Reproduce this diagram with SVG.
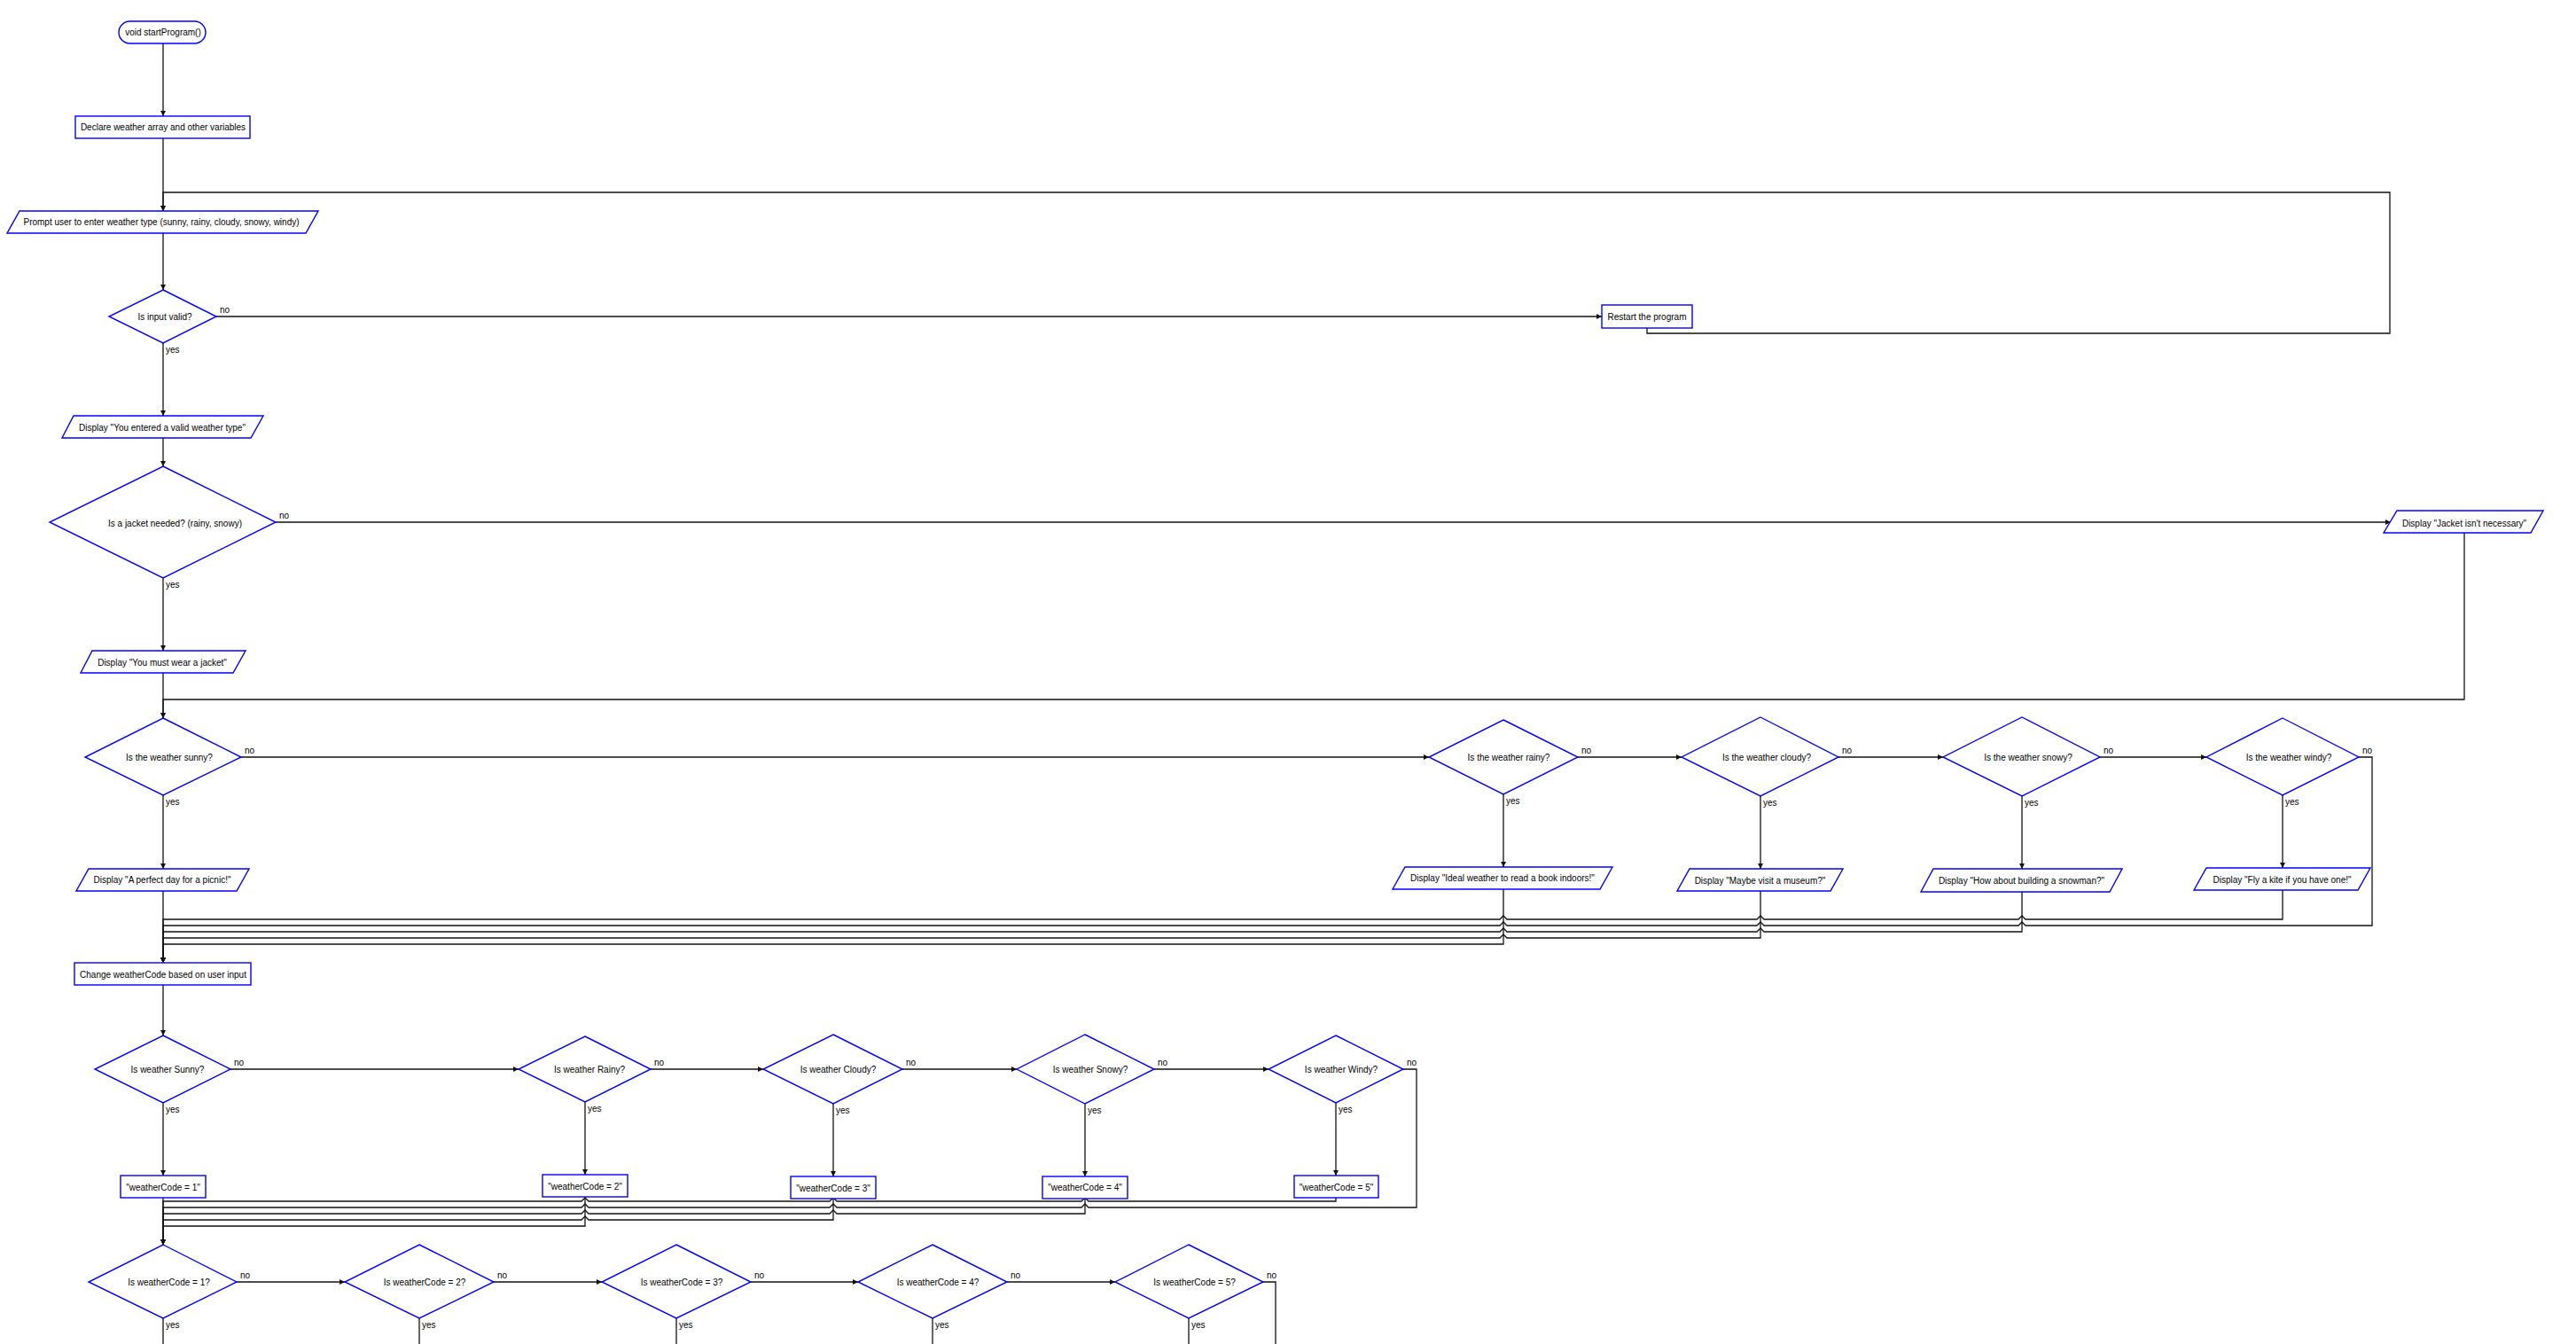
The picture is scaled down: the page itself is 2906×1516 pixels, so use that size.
<svg xmlns="http://www.w3.org/2000/svg" width="2906" height="1516" viewBox="0 0 2906 1516">
<style>
.n{fill:#fff;stroke:#0000ff;stroke-width:1.4}
.t{font-family:"Liberation Sans",Arial,sans-serif;font-size:10px;fill:#000;text-anchor:middle}
.l{font-family:"Liberation Sans",Arial,sans-serif;font-size:10px;fill:#000}
.e{fill:none;stroke:#111;stroke-width:1.3}
.a{marker-end:url(#arr)}
</style>
<defs>
<marker id="arr" markerUnits="userSpaceOnUse" markerWidth="7" markerHeight="6" refX="6" refY="3" orient="auto">
<path d="M0,0 L6,3 L0,6 z" fill="#111"/>
</marker>
<radialGradient id="fade" cx="0.5" cy="1" r="0.5">
<stop offset="0" stop-color="#dadada"/>
<stop offset="0.6" stop-color="#ececec" stop-opacity="0.7"/>
<stop offset="1" stop-color="#ffffff" stop-opacity="0"/>
</radialGradient>
</defs>
<rect width="2906" height="1516" fill="#fff"/>
<ellipse cx="1000" cy="1560" rx="850" ry="100" fill="url(#fade)"/>

<g id="connectors">
<path class="e a" d="M184,49 V131"/>
<path class="e a" d="M184,156 V238"/>
<path class="e a" d="M184,263 V327"/>
<path class="e a" d="M244,357 H1807"/>
<path class="e a" d="M1858,370 V376 H2696 V217 H184 V238"/>
<path class="e a" d="M184,387 V469"/>
<path class="e a" d="M184,494 V526"/>
<path class="e a" d="M311,589 H2697"/>
<path class="e a" d="M184,652 V734"/>
<path class="e a" d="M184,759 V810"/>
<path class="e a" d="M2780,601 V789 H184 V810"/>
<path class="e a" d="M272,854 H1612"/>
<path class="e a" d="M184,897 V980"/>
<path class="e a" d="M184,1005 V1086"/>
<path class="e a" d="M1780,854 H1897"/>
<path class="e a" d="M2074,854 H2192"/>
<path class="e a" d="M2369,854 H2489"/>
<path class="e a" d="M1696,896 V978"/>
<path class="e a" d="M1986,898 V980"/>
<path class="e a" d="M2281,898 V980"/>
<path class="e a" d="M2575,897 V979"/>
<path class="e a" d="M2575,1004 V1037 H2285 L2281,1033 L2277,1037 H1990 L1986,1033 L1982,1037 H1700 L1696,1033 L1692,1037 H184 V1086"/>
<path class="e a" d="M2661,854 H2676 V1044 H2285 L2281,1040 L2277,1044 H1990 L1986,1040 L1982,1044 H1700 L1696,1040 L1692,1044 H184 V1086"/>
<path class="e a" d="M2281,1006 V1051 H1990 L1986,1047 L1982,1051 H1700 L1696,1047 L1692,1051 H184 V1086"/>
<path class="e a" d="M1986,1005 V1058 H1700 L1696,1054 L1692,1058 H184 V1086"/>
<path class="e a" d="M1696,1003 V1065 H184 V1086"/>

<path class="e a" d="M184,1111 V1168"/>
<path class="e a" d="M260,1206 H585"/>
<path class="e a" d="M734,1206 H861"/>
<path class="e a" d="M1018,1206 H1147"/>
<path class="e a" d="M1302,1206 H1431"/>
<path class="e a" d="M184,1244 V1326"/>
<path class="e a" d="M660,1243 V1325"/>
<path class="e a" d="M940,1245 V1327"/>
<path class="e a" d="M1224,1245 V1327"/>
<path class="e a" d="M1507,1244 V1326"/>
<path class="e a" d="M184,1351 V1404"/>
<path class="e a" d="M1507,1351 V1355 H1228 L1224,1351 L1220,1355 H944 L940,1351 L936,1355 H664 L660,1351 L656,1355 H184 V1404"/>
<path class="e a" d="M1583,1206 H1598 V1362 H1228 L1224,1358 L1220,1362 H944 L940,1358 L936,1362 H664 L660,1358 L656,1362 H184 V1404"/>
<path class="e a" d="M1224,1352 V1369 H944 L940,1365 L936,1369 H664 L660,1365 L656,1369 H184 V1404"/>
<path class="e a" d="M940,1352 V1376 H664 L660,1372 L656,1376 H184 V1404"/>
<path class="e a" d="M660,1350 V1383 H184 V1404"/>

<path class="e a" d="M267,1446 H389"/>
<path class="e a" d="M557,1446 H679"/>
<path class="e a" d="M847,1446 H968"/>
<path class="e a" d="M1136,1446 H1258"/>
<path class="e" d="M1425,1446 H1439 V1520"/>
<path class="e" d="M184,1487 V1520"/>
<path class="e" d="M473,1487 V1520"/>
<path class="e" d="M763,1487 V1520"/>
<path class="e" d="M1052,1487 V1520"/>
<path class="e" d="M1341,1487 V1520"/>

<text class="l" x="248" y="353">no</text>
<text class="l" x="187" y="398">yes</text>
<text class="l" x="315" y="585">no</text>
<text class="l" x="187" y="663">yes</text>
<text class="l" x="276" y="850">no</text>
<text class="l" x="187" y="908">yes</text>
<text class="l" x="1784" y="850">no</text>
<text class="l" x="1699" y="907">yes</text>
<text class="l" x="2078" y="850">no</text>
<text class="l" x="1989" y="909">yes</text>
<text class="l" x="2373" y="850">no</text>
<text class="l" x="2284" y="909">yes</text>
<text class="l" x="2665" y="850">no</text>
<text class="l" x="2578" y="908">yes</text>

<text class="l" x="264" y="1202">no</text>
<text class="l" x="187" y="1255">yes</text>
<text class="l" x="738" y="1202">no</text>
<text class="l" x="663" y="1254">yes</text>
<text class="l" x="1022" y="1202">no</text>
<text class="l" x="943" y="1256">yes</text>
<text class="l" x="1306" y="1202">no</text>
<text class="l" x="1227" y="1256">yes</text>
<text class="l" x="1587" y="1202">no</text>
<text class="l" x="1510" y="1255">yes</text>

<text class="l" x="271" y="1442">no</text>
<text class="l" x="187" y="1498">yes</text>
<text class="l" x="561" y="1442">no</text>
<text class="l" x="476" y="1498">yes</text>
<text class="l" x="851" y="1442">no</text>
<text class="l" x="766" y="1498">yes</text>
<text class="l" x="1140" y="1442">no</text>
<text class="l" x="1055" y="1498">yes</text>
<text class="l" x="1429" y="1442">no</text>
<text class="l" x="1344" y="1498">yes</text>
</g>

<g id="start"><rect class="n" x="134" y="24" width="98" height="25" rx="12.5"/><text class="t" x="184" y="40">void startProgram()</text></g>
<g id="declare"><rect class="n" x="85" y="131" width="197" height="25"/><text class="t" x="184" y="147">Declare weather array and other variables</text></g>
<g id="prompt"><polygon class="n" points="22,238 359,238 345,263 8,263"/><text class="t" x="182" y="253.5">Prompt user to enter weather type (sunny, rainy, cloudy, snowy, windy)</text></g>
<g id="inputValid"><polygon class="n" points="184,327 244,357 184,387 123,357"/><text class="t" x="186" y="361">Is input valid?</text></g>
<g id="restart"><rect class="n" x="1807" y="344" width="102" height="26"/><text class="t" x="1858" y="360.5">Restart the program</text></g>
<g id="displayValid"><polygon class="n" points="83,469 297,469 283,494 70,494"/><text class="t" x="183" y="486">Display "You entered a valid weather type"</text></g>
<g id="jacketNeeded"><polygon class="n" points="184,526 311,589 184,652 56,589"/><text class="t" x="197.5" y="593.5">Is a jacket needed? (rainy, snowy)</text></g>
<g id="jacketNotNeeded"><polygon class="n" points="2704,576 2869,576 2855,601 2689,601"/><text class="t" x="2780" y="593.5">Display "Jacket isn't necessary"</text></g>
<g id="mustWear"><polygon class="n" points="104,734 277,734 263,759 91,759"/><text class="t" x="183" y="751">Display "You must wear a jacket"</text></g>

<g id="isSunny"><polygon class="n" points="184,810 272,854 184,897 96,854"/><text class="t" x="191" y="858">Is the weather sunny?</text></g>
<g id="isRainy"><polygon class="n" points="1696,812 1780,854 1696,896 1612,854"/><text class="t" x="1702" y="858">Is the weather rainy?</text></g>
<g id="isCloudy"><polygon class="n" points="1986,809 2074,854 1986,898 1897,854"/><text class="t" x="1993" y="858">Is the weather cloudy?</text></g>
<g id="isSnowy"><polygon class="n" points="2281,809 2369,854 2281,898 2192,854"/><text class="t" x="2288" y="858">Is the weather snowy?</text></g>
<g id="isWindy"><polygon class="n" points="2575,810 2661,854 2575,897 2489,854"/><text class="t" x="2582" y="858">Is the weather windy?</text></g>

<g id="picnic"><polygon class="n" points="100,980 281,980 267,1005 86,1005"/><text class="t" x="183" y="996">Display "A perfect day for a picnic!"</text></g>
<g id="book"><polygon class="n" points="1585,978 1819,978 1805,1003 1571,1003"/><text class="t" x="1695" y="994">Display "Ideal weather to read a book indoors!"</text></g>
<g id="museum"><polygon class="n" points="1906,980 2079,980 2065,1005 1892,1005"/><text class="t" x="1985.5" y="997">Display "Maybe visit a museum?"</text></g>
<g id="snowman"><polygon class="n" points="2181,980 2394,980 2380,1006 2167,1006"/><text class="t" x="2280.5" y="997">Display "How about building a snowman?"</text></g>
<g id="kite"><polygon class="n" points="2489,979 2674,979 2660,1004 2475,1004"/><text class="t" x="2574.5" y="996">Display "Fly a kite if you have one!"</text></g>

<g id="changeCode"><rect class="n" x="84" y="1086" width="199" height="25"/><text class="t" x="184" y="1103">Change weatherCode based on user input</text></g>

<g id="wSunny"><polygon class="n" points="184,1168 260,1206 184,1244 107,1206"/><text class="t" x="189" y="1210">Is weather Sunny?</text></g>
<g id="wRainy"><polygon class="n" points="660,1169 734,1206 660,1243 585,1206"/><text class="t" x="665" y="1210">Is weather Rainy?</text></g>
<g id="wCloudy"><polygon class="n" points="940,1167 1018,1206 940,1245 861,1206"/><text class="t" x="945.5" y="1210">Is weather Cloudy?</text></g>
<g id="wSnowy"><polygon class="n" points="1224,1167 1302,1206 1224,1245 1147,1206"/><text class="t" x="1230" y="1210">Is weather Snowy?</text></g>
<g id="wWindy"><polygon class="n" points="1507,1168 1583,1206 1507,1244 1431,1206"/><text class="t" x="1513" y="1210">Is weather Windy?</text></g>

<g id="code1"><rect class="n" x="136" y="1326" width="96" height="25"/><text class="t" x="184" y="1342.5">"weatherCode = 1"</text></g>
<g id="code2"><rect class="n" x="612" y="1325" width="96" height="25"/><text class="t" x="660" y="1341.5">"weatherCode = 2"</text></g>
<g id="code3"><rect class="n" x="892" y="1327" width="96" height="25"/><text class="t" x="940" y="1343.5">"weatherCode = 3"</text></g>
<g id="code4"><rect class="n" x="1176" y="1327" width="96" height="25"/><text class="t" x="1224" y="1343">"weatherCode = 4"</text></g>
<g id="code5"><rect class="n" x="1460" y="1326" width="95" height="25"/><text class="t" x="1507.5" y="1343">"weatherCode = 5"</text></g>

<g id="isCode1"><polygon class="n" points="184,1404 267,1446 184,1487 100,1446"/><text class="t" x="190.5" y="1450">Is weatherCode = 1?</text></g>
<g id="isCode2"><polygon class="n" points="473,1404 557,1446 473,1487 389,1446"/><text class="t" x="479" y="1450">Is weatherCode = 2?</text></g>
<g id="isCode3"><polygon class="n" points="763,1404 847,1446 763,1487 679,1446"/><text class="t" x="769" y="1450">Is weatherCode = 3?</text></g>
<g id="isCode4"><polygon class="n" points="1052,1404 1136,1446 1052,1487 968,1446"/><text class="t" x="1058" y="1450">Is weatherCode = 4?</text></g>
<g id="isCode5"><polygon class="n" points="1341,1404 1425,1446 1341,1487 1258,1446"/><text class="t" x="1347.5" y="1450">Is weatherCode = 5?</text></g>
</svg>
